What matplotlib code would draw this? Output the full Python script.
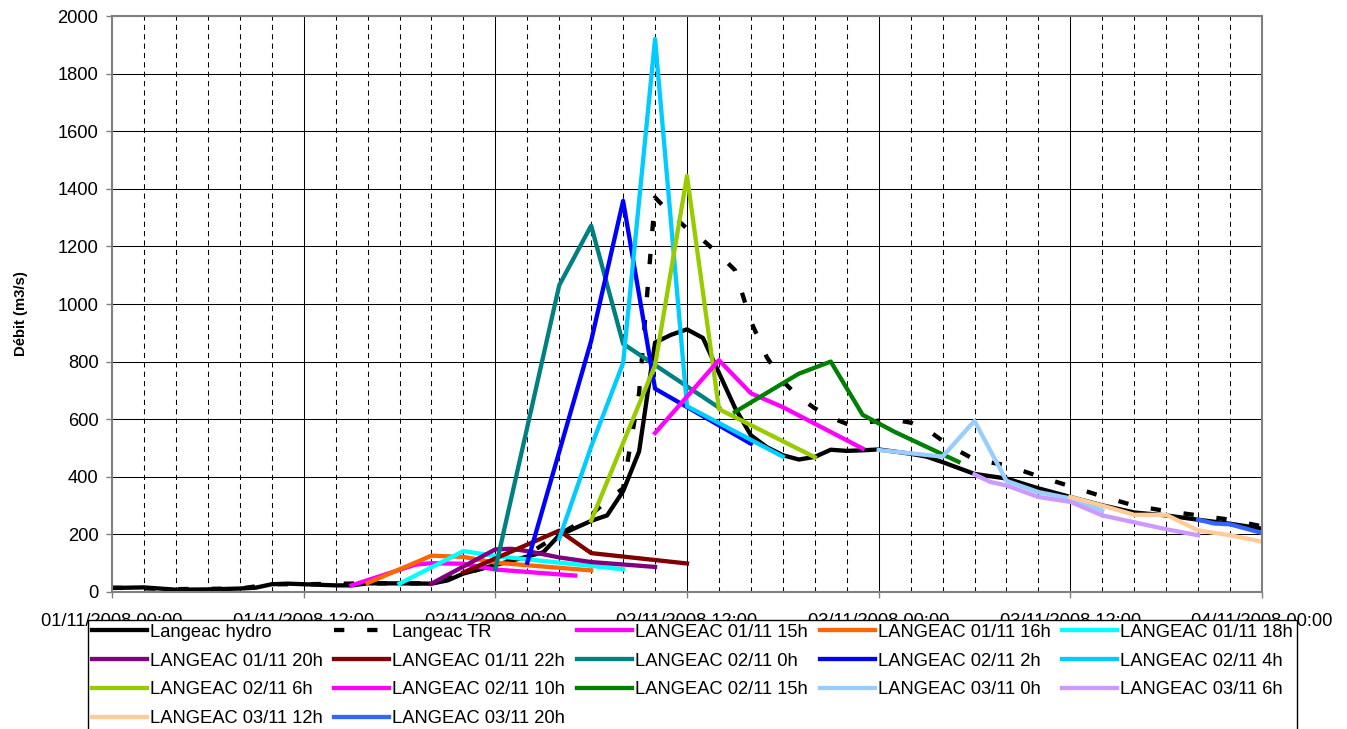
import matplotlib
matplotlib.use("Agg")
import matplotlib.pyplot as plt
from matplotlib.ticker import MultipleLocator, FixedLocator

plt.rcParams['font.family'] = ['Liberation Sans', 'DejaVu Sans']

# hours since 01/11/2008 00:00
tick_hours = [0, 12, 24, 36, 48, 60, 72]
tick_labels = ["01/11/2008 00:00", "01/11/2008 12:00", "02/11/2008 00:00",
               "02/11/2008 12:00", "03/11/2008 00:00", "03/11/2008 12:00",
               "04/11/2008 00:00"]

# observed discharge (m3/s)
hydro_h = [0, 2, 4, 6, 8, 9, 10, 11, 12, 14, 15, 16, 18, 20, 21, 22, 27, 28, 29, 30,
           31, 32, 33, 34, 35, 36, 37, 39, 40, 41, 42, 43, 44, 45, 46, 47, 48, 50, 51,
           52, 54, 56, 58, 60, 62, 64, 66, 68, 70, 72]
hydro_q = [14, 16, 8, 9, 12, 15, 27, 29, 27, 23, 23, 30, 30, 29, 40, 64, 138, 197, 222, 247,
           266, 350, 488, 866, 893, 912, 882, 640, 544, 503, 475, 460, 469, 494, 490, 492, 495, 480, 470,
           451, 410, 394, 360, 330, 301, 276, 266, 251, 237, 220]

tr_h = [0, 4, 8, 10, 12, 16, 20, 22, 26, 28, 29, 30, 31, 32, 33, 34, 35, 36, 37, 38, 39,
        40, 41, 42, 43, 44, 45, 46, 47, 48, 49, 50, 51, 52, 53, 54, 56, 58, 60, 62, 64,
        66, 68, 70, 72]
tr_q = [15, 10, 12, 27, 27, 30, 30, 62, 130, 200, 232, 268, 318, 360, 690, 1370, 1312, 1262, 1222, 1172, 1118,
        940, 815, 732, 677, 638, 606, 584, 586, 595, 598, 588, 565, 525, 490, 460, 440, 402, 367, 332, 300,
        281, 266, 251, 228]

# forecasts, one per issue time
h_0111_15 = [15, 19, 20, 22, 24, 29]
q_0111_15 = [23, 95, 100, 98, 78, 57]
h_0111_16 = [16, 20, 22, 24, 30]
q_0111_16 = [31, 126, 122, 102, 75]
h_0111_18 = [18, 22, 24, 32]
q_0111_18 = [29, 142, 125, 79]
h_0111_20 = [20, 24, 25, 26, 28, 30, 34]
q_0111_20 = [29, 148, 150, 142, 120, 104, 87]
h_0111_22 = [22, 28, 30, 36]
q_0111_22 = [68, 213, 135, 99]
h_0211_00 = [24, 28, 30, 32, 38]
q_0211_00 = [80, 1065, 1272, 862, 640]
h_0211_02 = [26, 30, 32, 34, 40]
q_0211_02 = [102, 872, 1358, 706, 515]
h_0211_04 = [28, 30, 32, 34, 36, 42]
q_0211_04 = [185, 505, 795, 1920, 645, 470]
h_0211_06 = [30, 34, 36, 38, 44]
q_0211_06 = [248, 787, 1445, 635, 468]
h_0211_10 = [34, 38, 40, 42, 47]
q_0211_10 = [552, 805, 690, 642, 498]
h_0211_15 = [39, 43, 45, 47, 49, 53]
q_0211_15 = [625, 758, 800, 615, 556, 452]
h_0311_00 = [48, 52, 54, 56, 58, 60, 62]
q_0311_00 = [493, 470, 594, 386, 347, 325, 282]
h_0311_06 = [54, 55, 56, 58, 60, 62, 64, 66, 68]
q_0311_06 = [408, 382, 370, 330, 313, 266, 242, 218, 197]
h_0311_12 = [60, 62, 64, 66, 68, 70, 72]
q_0311_12 = [330, 300, 268, 268, 214, 197, 175]
h_0311_20 = [68, 69, 70, 72]
q_0311_20 = [251, 238, 235, 205]

forecasts = [
    ("LANGEAC 01/11 15h", "#FF00FF", h_0111_15, q_0111_15),
    ("LANGEAC 01/11 16h", "#FF6600", h_0111_16, q_0111_16),
    ("LANGEAC 01/11 18h", "#00FFFF", h_0111_18, q_0111_18),
    ("LANGEAC 01/11 20h", "#800080", h_0111_20, q_0111_20),
    ("LANGEAC 01/11 22h", "#800000", h_0111_22, q_0111_22),
    ("LANGEAC 02/11 0h", "#008080", h_0211_00, q_0211_00),
    ("LANGEAC 02/11 2h", "#0000FF", h_0211_02, q_0211_02),
    ("LANGEAC 02/11 4h", "#00CCFF", h_0211_04, q_0211_04),
    ("LANGEAC 02/11 6h", "#99CC00", h_0211_06, q_0211_06),
    ("LANGEAC 02/11 10h", "#FF00FF", h_0211_10, q_0211_10),
    ("LANGEAC 02/11 15h", "#008000", h_0211_15, q_0211_15),
    ("LANGEAC 03/11 0h", "#99CCFF", h_0311_00, q_0311_00),
    ("LANGEAC 03/11 6h", "#CC99FF", h_0311_06, q_0311_06),
    ("LANGEAC 03/11 12h", "#FFCC99", h_0311_12, q_0311_12),
    ("LANGEAC 03/11 20h", "#3366FF", h_0311_20, q_0311_20),
]

W, H = 1347, 729
fig = plt.figure(figsize=(W / 100, H / 100), dpi=100)
ax = fig.add_axes([112 / W, 1 - 592 / H, 1150 / W, 576 / H])

lw = 3.1
handles = []
l, = ax.plot(hydro_h, hydro_q, color="black", lw=lw, label="Langeac hydro")
handles.append(l)
l, = ax.plot(tr_h, tr_q, color="black", lw=lw, ls=(0, (2.4, 5.3)), label="Langeac TR")
handles.append(l)
for name, col, hh, qq in forecasts:
    l, = ax.plot(hh, qq, color=col, lw=lw, label=name)
    handles.append(l)

ax.set_xlim(0, 72)
ax.set_ylim(0, 2000)
ax.xaxis.set_major_locator(FixedLocator(tick_hours))
ax.set_xticklabels(tick_labels)
ax.xaxis.set_minor_locator(MultipleLocator(2))
ax.yaxis.set_major_locator(MultipleLocator(200))

ax.set_axisbelow(True)
ax.grid(which="major", axis="both", color="black", lw=0.75)
ax.grid(which="minor", axis="x", color="black", lw=0.75, ls=(0, (5, 4)))

for s in ax.spines.values():
    s.set_color("#808080")
    s.set_linewidth(1.5)

ax.tick_params(axis="both", which="major", labelsize=13.2, direction="out",
               length=4.3, width=1, color="#808080")
ax.tick_params(axis="x", which="major", pad=11)
ax.tick_params(axis="y", which="major", pad=5.5)
ax.tick_params(axis="x", which="minor", length=0)

ax.set_ylabel("Débit (m3/s)", fontsize=10.7, fontweight="bold")
ax.yaxis.set_label_coords(-0.073, 0.483)

# legend entries go row by row across five columns
order = [0, 5, 10, 15, 1, 6, 11, 16, 2, 7, 12, 3, 8, 13, 4, 9, 14]
leg = fig.legend([handles[i] for i in order], [handles[i].get_label() for i in order],
                 ncol=5, loc="upper left", bbox_to_anchor=(88 / W, 1 - 620 / H),
                 bbox_transform=fig.transFigure, fontsize=13.2, frameon=True,
                 fancybox=False, shadow=False, framealpha=1, edgecolor="black",
                 handlelength=3.0, handletextpad=0.16, columnspacing=0.65,
                 labelspacing=0.65, borderpad=0.2, borderaxespad=0)
leg.get_frame().set_linewidth(1.0)

fig.savefig("out.png", dpi=100)
